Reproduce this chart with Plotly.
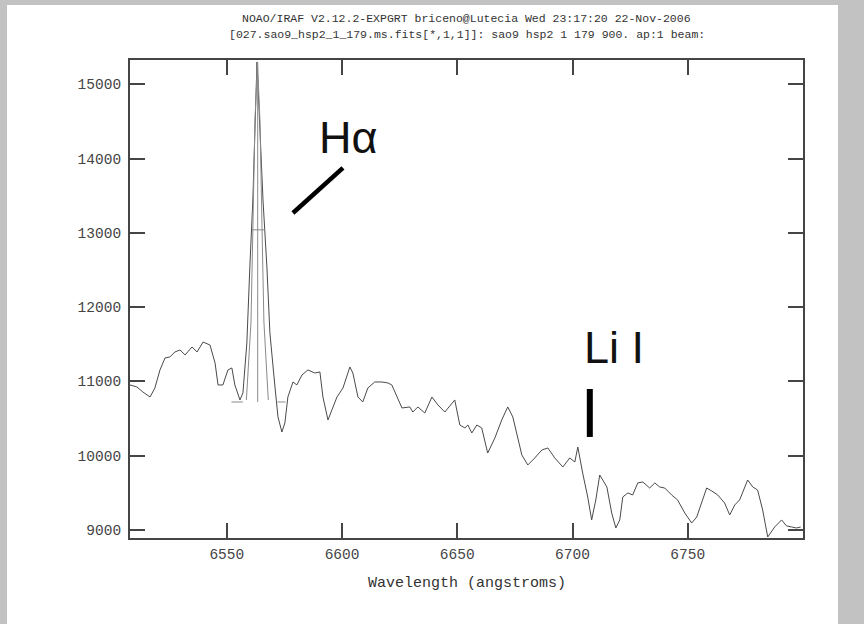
import plotly.graph_objects as go

# Observed spectrum (wavelength in angstroms, flux in counts)
wavelength = [
    6508.0, 6511.0, 6513.6, 6516.7, 6518.8, 6521.0, 6523.2, 6525.3, 6527.5, 6529.7,
    6531.9, 6534.9, 6537.1, 6539.7, 6542.7, 6544.9, 6546.2, 6548.3, 6550.5, 6552.2,
    6553.5, 6555.7, 6557.0, 6558.7, 6560.0, 6561.3, 6563.1, 6565.7, 6567.4, 6568.7,
    6570.9, 6572.2, 6573.9, 6575.2, 6576.5, 6578.7, 6580.4, 6582.6, 6585.2, 6588.2,
    6590.4, 6591.7, 6593.9, 6596.0, 6597.8, 6600.4, 6603.4, 6604.7, 6606.9, 6609.0,
    6611.2, 6614.2, 6617.3, 6619.9, 6621.6, 6626.0, 6629.4, 6630.7, 6632.9, 6635.9,
    6639.0, 6641.6, 6644.6, 6648.9, 6651.1, 6653.3, 6654.6, 6656.3, 6658.5, 6660.6,
    6663.2, 6666.3, 6669.3, 6671.9, 6674.1, 6678.0, 6680.6, 6683.6, 6686.7, 6689.3,
    6692.3, 6695.8, 6698.8, 6701.0, 6702.3, 6704.4, 6706.6, 6708.3, 6710.1, 6711.8,
    6714.9, 6717.0, 6718.8, 6720.5, 6721.8, 6724.0, 6726.1, 6728.3, 6730.5, 6733.5,
    6735.7, 6737.8, 6740.0, 6743.0, 6745.6, 6748.7, 6751.7, 6753.9, 6756.0, 6758.2,
    6760.4, 6763.0, 6766.0, 6768.2, 6770.4, 6772.5, 6776.0, 6778.2, 6780.3, 6782.5,
    6784.7, 6786.4, 6787.7, 6790.7, 6792.9, 6795.1, 6797.2, 6799.0,
]
flux = [
    10952, 10925, 10857, 10790, 10911, 11154, 11315, 11329, 11396, 11423,
    11356, 11463, 11396, 11530, 11490, 11248, 10952, 10952, 11154, 11181,
    10952, 10750, 10844, 11517, 12540, 13442, 15299, 13442, 12540, 11652,
    10925, 10521, 10319, 10440, 10790, 10992, 10952, 11086, 11154, 11113,
    11127, 10790, 10481, 10656, 10790, 10911, 11194, 11113, 10790, 10723,
    10911, 10992, 10992, 10979, 10952, 10642, 10656, 10588, 10656, 10575,
    10790, 10683, 10588, 10750, 10413, 10373, 10413, 10306, 10413, 10373,
    10036, 10238, 10481, 10656, 10521, 10010, 9875, 9969, 10077, 10104,
    9969, 9848, 9969, 9915, 10117, 9767, 9444, 9135, 9404, 9740,
    9579, 9229, 9027, 9135, 9444, 9498, 9471, 9633, 9646, 9565,
    9633, 9579, 9565, 9471, 9404, 9229, 9094, 9175, 9363, 9565,
    9525, 9471, 9363, 9202, 9337, 9404, 9673, 9579, 9538, 9269,
    8906, 8973, 9040, 9135, 9054, 9040, 9027, 9040,
]

# Gaussian fit to H-alpha emission, as plotted by splot
fit_wavelength = [6558.5, 6560.5, 6561.3, 6562.2, 6563.3, 6564.4, 6565.3, 6566.1, 6568.0]
fit_flux = [10750, 11800, 13040, 14500, 15300, 14500, 13040, 11800, 10750]

# Fit markers: continuum level, line centre, half maximum
continuum_level = 10723
continuum_left = [6552.0, 6557.0]
continuum_right = [6572.0, 6575.5]
line_centre = 6563.4
peak_flux = 15300
half_max_level = 13040
half_max_span = [6561.0, 6566.6]

# Line identifications
halpha_label_pos = (6603.0, 14280)
halpha_tick = ([6578.7, 6600.4], [13267, 13873])
lithium_label_pos = (6718.0, 11450)
lithium_tick = ([6707.5, 6707.5], [10252, 10898])

x_ticks = [6550, 6600, 6650, 6700, 6750]
y_ticks = [9000, 10000, 11000, 12000, 13000, 14000, 15000]
x_range = [6508, 6800]
y_range = [8892, 15326]

title_lines = [
    "NOAO/IRAF V2.12.2-EXPGRT briceno@Lutecia Wed 23:17:20 22-Nov-2006",
    "[027.sao9_hsp2_1_179.ms.fits[*,1,1]]: sao9 hsp2 1 179 900. ap:1 beam:",
]
x_title = "Wavelength (angstroms)"

MONO = "Liberation Mono, DejaVu Sans Mono, monospace"
INK = "#4a4a4a"
AXIS = "#454545"

fig = go.Figure()

fig.add_trace(go.Scatter(
    x=wavelength, y=flux, mode="lines",
    line=dict(color=INK, width=1), hoverinfo="skip", showlegend=False,
))
fig.add_trace(go.Scatter(
    x=fit_wavelength, y=fit_flux, mode="lines",
    line=dict(color="#8a8a8a", width=1), hoverinfo="skip", showlegend=False,
))

thin = dict(color="#8a8a8a", width=1)
for seg in (continuum_left, continuum_right):
    fig.add_shape(type="line", xref="x", yref="y", x0=seg[0], x1=seg[1],
                  y0=continuum_level, y1=continuum_level, line=thin)
fig.add_shape(type="line", xref="x", yref="y", x0=line_centre, x1=line_centre,
              y0=continuum_level, y1=peak_flux, line=thin)
fig.add_shape(type="line", xref="x", yref="y", x0=half_max_span[0], x1=half_max_span[1],
              y0=half_max_level, y1=half_max_level, line=thin)

fig.add_shape(type="line", xref="x", yref="y",
              x0=halpha_tick[0][0], x1=halpha_tick[0][1],
              y0=halpha_tick[1][0], y1=halpha_tick[1][1],
              line=dict(color="black", width=4.5))
fig.add_shape(type="line", xref="x", yref="y",
              x0=lithium_tick[0][0], x1=lithium_tick[0][1],
              y0=lithium_tick[1][0], y1=lithium_tick[1][1],
              line=dict(color="black", width=6))

fig.add_annotation(x=halpha_label_pos[0], y=halpha_label_pos[1], xref="x", yref="y",
                   text="Hα", showarrow=False,
                   font=dict(family="Liberation Sans, Arial, sans-serif", size=45, color="#111"))
fig.add_annotation(x=lithium_label_pos[0], y=lithium_label_pos[1], xref="x", yref="y",
                   text="Li I", showarrow=False,
                   font=dict(family="Liberation Sans, Arial, sans-serif", size=45, color="#111"))

# Two-line IRAF header above the frame
for i, line in enumerate(title_lines):
    fig.add_annotation(x=0.5, y=1.0, xref="paper", yref="paper",
                       yshift=42 - 16 * i, text=line, showarrow=False,
                       xanchor="center", yanchor="middle",
                       font=dict(family=MONO, size=11.5, color="#333"))

fig.add_annotation(x=0.5, y=0.0, xref="paper", yref="paper", yshift=-45,
                   text=x_title, showarrow=False, xanchor="center", yanchor="middle",
                   font=dict(family=MONO, size=15, color="#333"))

# Light frame around the white page
fig.add_shape(type="rect", xref="paper", yref="paper",
              x0=(7 - 130) / 673, x1=(838 - 130) / 673,
              y0=-0.3, y1=(538 - 5) / 478,
              fillcolor="white", line=dict(width=0), layer="below")

axis_common = dict(
    showline=True, linewidth=2, linecolor=AXIS, mirror="ticks",
    ticks="inside", ticklen=15, tickwidth=2, tickcolor=AXIS,
    showgrid=False, zeroline=False,
    tickfont=dict(family=MONO, size=14.5, color="#444"),
)

fig.update_xaxes(range=x_range, tickvals=x_ticks, ticktext=[str(v) for v in x_ticks],
                 ticklabelstandoff=2, **axis_common)
fig.update_yaxes(range=y_range, tickvals=y_ticks, ticktext=[str(v) for v in y_ticks],
                 ticklabelstandoff=4, **axis_common)

fig.update_layout(
    width=864, height=624,
    margin=dict(l=130, r=61, t=60, b=86),
    paper_bgcolor="#c2c2c2",
    plot_bgcolor="white",
    showlegend=False,
)

fig.write_html("out.html")
